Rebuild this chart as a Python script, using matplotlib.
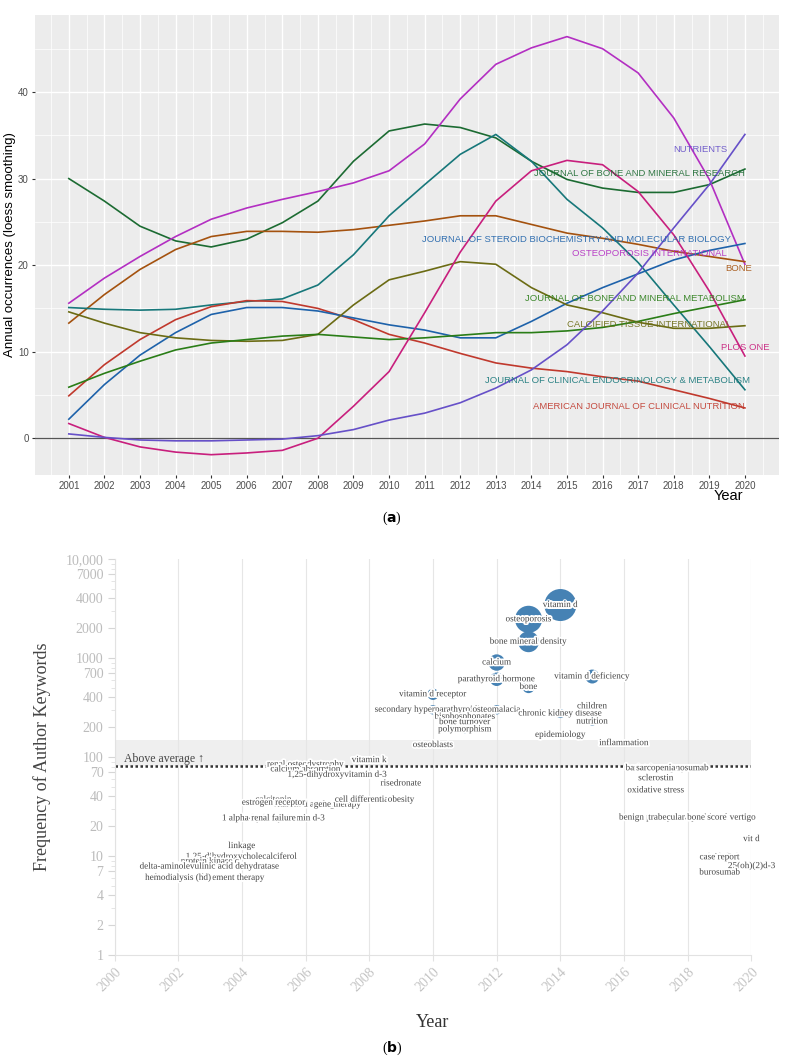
import matplotlib.pyplot as plt
import matplotlib.patheffects as pe
from matplotlib.ticker import FixedLocator, FixedFormatter, NullFormatter
import numpy as np

# ---- panel (a): loess-smoothed annual occurrences per journal ----
years = list(range(2001, 2021))

jbmr = [30.0, 27.4, 24.5, 22.8, 22.1, 23.0, 24.9, 27.4, 32.0, 35.5,
        36.3, 35.9, 34.7, 32.0, 29.9, 28.9, 28.4, 28.4, 29.3, 31.1]
osteo_int = [15.6, 18.5, 21.0, 23.3, 25.3, 26.6, 27.6, 28.5, 29.5, 30.9,
             34.0, 39.2, 43.2, 45.1, 46.4, 45.0, 42.2, 37.0, 29.9, 20.1]
bone = [13.3, 16.6, 19.5, 21.8, 23.3, 23.9, 23.9, 23.8, 24.1, 24.6,
        25.1, 25.7, 25.7, 24.7, 23.7, 23.1, 22.4, 21.6, 21.0, 20.4]
jcem = [15.1, 14.9, 14.8, 14.9, 15.4, 15.8, 16.1, 17.7, 21.2, 25.7,
        29.3, 32.8, 35.1, 32.0, 27.6, 24.3, 20.3, 15.4, 10.6, 5.6]
ajcn = [4.9, 8.5, 11.4, 13.7, 15.2, 15.9, 15.8, 15.0, 13.7, 12.0,
        11.0, 9.8, 8.7, 8.1, 7.7, 7.1, 6.6, 5.6, 4.6, 3.5]
jsbmb = [2.2, 6.2, 9.6, 12.2, 14.3, 15.1, 15.1, 14.7, 13.9, 13.1,
         12.5, 11.6, 11.6, 13.5, 15.6, 17.4, 19.0, 20.6, 21.7, 22.5]
cti = [14.6, 13.3, 12.2, 11.6, 11.3, 11.2, 11.3, 12.0, 15.4, 18.3,
       19.3, 20.4, 20.1, 17.4, 15.4, 14.5, 13.4, 12.7, 12.7, 13.0]
jbmm = [5.9, 7.5, 8.9, 10.2, 11.0, 11.4, 11.8, 12.0, 11.7, 11.4,
        11.6, 11.9, 12.2, 12.2, 12.4, 12.8, 13.5, 14.4, 15.2, 16.0]
plos = [1.7, 0.1, -1.0, -1.6, -1.9, -1.7, -1.4, 0.0, 3.7, 7.7,
        14.5, 21.5, 27.4, 30.9, 32.1, 31.6, 28.5, 23.5, 17.0, 9.5]
nutrients = [0.5, 0.1, -0.2, -0.3, -0.3, -0.2, -0.1, 0.3, 1.0, 2.1,
             2.9, 4.1, 5.8, 7.9, 10.8, 14.7, 19.1, 24.3, 29.3, 35.1]

journal_names = ["JOURNAL OF BONE AND MINERAL RESEARCH", "OSTEOPOROSIS INTERNATIONAL", "BONE",
                 "JOURNAL OF CLINICAL ENDOCRINOLOGY & METABOLISM", "AMERICAN JOURNAL OF CLINICAL NUTRITION",
                 "JOURNAL OF STEROID BIOCHEMISTRY AND MOLECULAR BIOLOGY", "CALCIFIED TISSUE INTERNATIONAL",
                 "JOURNAL OF BONE AND MINERAL METABOLISM", "PLOS ONE", "NUTRIENTS"]
journal_series = [jbmr, osteo_int, bone, jcem, ajcn, jsbmb, cti, jbmm, plos, nutrients]
label_x = [2020.0, 2019.5, 2020.2, 2020.15, 2020.0, 2019.6, 2019.6, 2020.0, 2020.7, 2019.5]
label_y = [30.6, 21.3, 19.6, 6.7, 3.7, 23.0, 13.1, 16.1, 10.5, 33.4]

# ---- panel (b): trend topics of author keywords ----
kw_labels = ["vitamin d", "osteoporosis", "bone mineral density", "calcium", "parathyroid hormone",
             "bone", "vitamin d deficiency", "vitamin d receptor", "secondary hyperparathyroidism",
             "osteomalacia", "bisphosphonates", "bone turnover", "polymorphism", "chronic kidney disease",
             "children", "nutrition", "epidemiology", "inflammation", "osteoblasts", "vitamin k",
             "renal osteodystrophy", "calcium absorption", "1,25-dihydroxyvitamin d-3", "risedronate",
             "bariatric surgery", "denosumab", "sarcopenia", "sclerostin", "oxidative stress",
             "calcitonin", "vitamin d analogs", "estrogen receptor", "gene therapy", "cell differentiation",
             "obesity", "1 alpha-hydroxyvitamin d-3", "renal failure", "linkage",
             "1,25-dihydroxycholecalciferol", "protein kinase c", "serms",
             "delta-aminolevulinic acid dehydratase", "hormone replacement therapy", "hemodialysis (hd)",
             "benign paroxysmal positional vertigo", "trabecular bone score", "vit d", "calcifediol",
             "case report", "25(oh)(2)d-3", "burosumab"]
kw_year = [2014, 2013, 2013, 2012, 2012,
           2013, 2015, 2010, 2010,
           2012, 2011, 2011, 2011, 2014,
           2015, 2015, 2014, 2016, 2010, 2008,
           2006, 2006, 2007, 2009,
           2017, 2018, 2017, 2017, 2017,
           2005, 2006, 2005, 2007, 2008,
           2009, 2005, 2005, 2004,
           2004, 2003, 2002,
           2003, 2003, 2002,
           2018, 2018, 2020, 2019,
           2019, 2020, 2019]
kw_freq = [3430, 2460, 1460, 900, 610,
           510, 650, 430, 300,
           300, 255, 225, 190, 275,
           325, 228, 167, 138, 132, 93,
           84, 75, 66, 54,
           77, 77, 77, 61, 46,
           37, 33, 34.5, 33, 37,
           37, 24, 24, 12.6,
           9.8, 8.8, 8.0,
           7.8, 6.0, 6.0,
           24.4, 24.4, 14.8, 9.7,
           9.7, 7.9, 6.8]

above_avg = 82
band_top = 149

fig = plt.figure(figsize=(7.85, 10.62), dpi=100)

# ---------------- panel (a) ----------------
colors_a = ["#1c6b32", "#b32fc2", "#a4520f", "#17777a", "#c0392d",
            "#1e62aa", "#6b6b14", "#2a7d17", "#c81f7d", "#6650c8"]
sans = ["Liberation Sans", "DejaVu Sans"]

ax1 = fig.add_axes([0.0446, 0.5527, 0.9474, 0.4332])
ax1.set_facecolor("#ececec")
for vals, col in zip(journal_series, colors_a):
    ax1.plot(years, vals, color=col, lw=1.2, zorder=3)
for name, x, y, col in zip(journal_names, label_x, label_y, colors_a):
    ax1.text(x, y, name, color=col, fontsize=6.8, ha="right", va="center",
             family=sans, alpha=0.9, zorder=4)
ax1.axhline(0, color="#555555", lw=0.9, zorder=2)

ax1.set_xlim(2000.05, 2020.95)
ax1.set_ylim(-4.25, 48.9)
ax1.set_xticks(years)
ax1.set_xticks(np.arange(2000.5, 2021, 1), minor=True)
ax1.set_yticks([0, 10, 20, 30, 40])
ax1.set_yticks([5, 15, 25, 35, 45], minor=True)
ax1.grid(which="major", color="white", lw=1.0)
ax1.grid(which="minor", color="white", lw=0.5)
ax1.set_axisbelow(True)
for s in ax1.spines.values():
    s.set_visible(False)
ax1.tick_params(which="major", length=2.5, color="#333333", labelsize=7,
                labelcolor="#4d4d4d", pad=2)
ax1.tick_params(which="minor", length=0)
for lab in ax1.get_xticklabels() + ax1.get_yticklabels():
    lab.set_family(sans)
ax1.set_ylabel("Annual occurrences (loess smoothing)", fontsize=9.5, family=sans)
ax1.yaxis.set_label_coords(-0.025, 0.5)
ax1.set_xlabel("Year", fontsize=10.5, family=sans, loc="right")
ax1.xaxis.set_label_coords(0.952, -0.03)

# ---------------- panel (b) ----------------
serif = ["Liberation Serif", "DejaVu Serif"]
ax2 = fig.add_axes([0.1459, 0.1008, 0.8114, 0.3728])
ax2.set_yscale("log")
ax2.set_xlim(2000, 2020)
ax2.set_ylim(1, 10000)

ax2.axhspan(above_avg, band_top, color="#efefef", lw=0, zorder=0)
ax2.axhline(above_avg, color="#333333", ls=(0, (1, 1)), lw=1.8, zorder=1)
ax2.text(2000.3, 95, "Above average \u2191", fontsize=8.5, color="#444444",
         va="center", ha="left", family=serif, zorder=3)

sizes = np.array(kw_freq) * 0.155
ax2.scatter(kw_year, kw_freq, s=sizes, color="#4682b4", edgecolors="none", zorder=2)
halo = [pe.withStroke(linewidth=2.5, foreground="white")]
for lab, x, y in zip(kw_labels, kw_year, kw_freq):
    ax2.text(x, y, lab, fontsize=6.6, color="#444444", ha="center", va="center",
             family=serif, path_effects=halo, zorder=3)

ax2.set_xticks(range(2000, 2021, 2))
ax2.grid(axis="x", color="#e6e6e6", lw=0.8)
ax2.set_axisbelow(True)
major_y = [1, 2, 4, 7, 10, 20, 40, 70, 100, 200, 400, 700, 1000, 2000, 4000, 7000, 10000]
ax2.yaxis.set_major_locator(FixedLocator(major_y))
ax2.yaxis.set_major_formatter(FixedFormatter([f"{v:,}" if v >= 10000 else str(v) for v in major_y]))
minor_y = [m * 10 ** e for e in range(0, 4) for m in range(2, 10)]
minor_y = [v for v in minor_y if v not in major_y]
ax2.yaxis.set_minor_locator(FixedLocator(minor_y))
ax2.yaxis.set_minor_formatter(NullFormatter())
for side in ["top", "right"]:
    ax2.spines[side].set_visible(False)
for side in ["left", "bottom"]:
    ax2.spines[side].set_color("#e2e2e2")
ax2.tick_params(axis="y", which="major", length=5, color="#d6d6d6", labelsize=10,
                labelcolor="#bcbcbc", pad=3)
ax2.tick_params(axis="y", which="minor", length=3, color="#e0e0e0")
ax2.tick_params(axis="x", which="major", length=4, color="#e2e2e2", labelsize=10,
                labelcolor="#c4c4c4")
for lab in ax2.get_xticklabels():
    lab.set_rotation(45)
    lab.set_ha("right")
    lab.set_va("top")
    lab.set_rotation_mode("anchor")
for lab in ax2.get_xticklabels() + ax2.get_yticklabels():
    lab.set_family(serif)
ax2.set_ylabel("Frequency of Author Keywords", fontsize=13, color="#444444", family=serif)
ax2.yaxis.set_label_coords(-0.1, 0.5)
ax2.set_xlabel("Year", fontsize=13, color="#333333", family=serif)
ax2.xaxis.set_label_coords(0.5, -0.15)

fig.text(0.4994, 0.5122, r"($\mathbf{a}$)", ha="center", va="center", fontsize=10, family=serif)
fig.text(0.4994, 0.0132, r"($\mathbf{b}$)", ha="center", va="center", fontsize=10, family=serif)

fig.savefig("out.png", dpi=100)
